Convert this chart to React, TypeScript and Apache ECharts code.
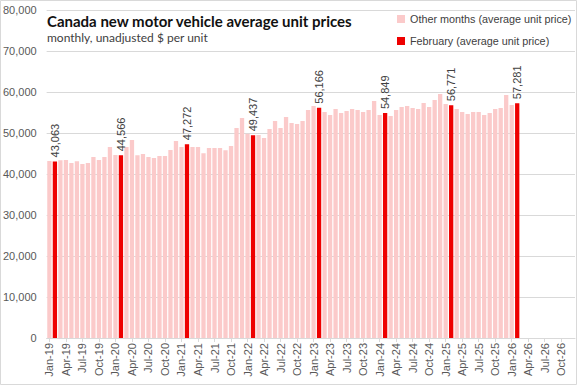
import React, { useEffect, useRef } from "react";
import * as echarts from "echarts";

const monthNames = ["Jan", "Feb", "Mar", "Apr", "May", "Jun", "Jul", "Aug", "Sep", "Oct", "Nov", "Dec"];
const years = ["19", "20", "21", "22", "23", "24", "25", "26"];

// Average unit price by month (Jan..Dec), $ per unit
const prices2019 = [43200, 43063, 43330, 43400, 42700, 43100, 42440, 42700, 44150, 43400, 44150, 46600];
const prices2020 = [44630, 44566, 46600, 48300, 44550, 44880, 44150, 43900, 44400, 44400, 45850, 48050];
const prices2021 = [46600, 47272, 46600, 46600, 45040, 46340, 46340, 46340, 45770, 46830, 51220, 53660];
const prices2022 = [49840, 49437, 49510, 48780, 50980, 52930, 51220, 53900, 52440, 52200, 52930, 55610];
const prices2023 = [56590, 56166, 55120, 54390, 55850, 54880, 55370, 55850, 55610, 55120, 55610, 57800];
const prices2024 = [54390, 54849, 54150, 55610, 56340, 56590, 56100, 55850, 57320, 56340, 58050, 59510];
const prices2025 = [57070, 56771, 55850, 55120, 54630, 55120, 55120, 54390, 54880, 55850, 56100, 59270];
const prices2026 = [56830, 57281];

const yTicks = { min: 0, max: 80000, interval: 10000 };

const fmt = (v: number) => Math.round(v).toLocaleString("en-US");

export default function App() {
  const ref = useRef<HTMLDivElement>(null);

  useEffect(() => {
    if (!ref.current) return;
    const chart = echarts.init(ref.current, null, { renderer: "svg" });

    const categories: string[] = [];
    years.forEach((y) => monthNames.forEach((m) => categories.push(`${m}-${y}`)));
    const all = [
      ...prices2019, ...prices2020, ...prices2021, ...prices2022,
      ...prices2023, ...prices2024, ...prices2025, ...prices2026,
    ];
    const others = categories.map((c, i) =>
      i < all.length && c.slice(0, 3) !== "Feb" ? all[i] : null
    );
    const febs = categories.map((c, i) =>
      i < all.length && c.slice(0, 3) === "Feb" ? all[i] : null
    );

    const axisFont = "Liberation Sans, Arial, sans-serif";

    chart.setOption({
      animation: false,
      backgroundColor: "#ffffff",
      title: {
        text: "Canada new motor vehicle average unit prices",
        subtext: "monthly, unadjusted $ per unit",
        left: 42,
        top: 8,
        itemGap: 3,
        textStyle: {
          fontFamily: "Lato, sans-serif",
          fontSize: 15,
          fontWeight: "bold",
          color: "#111111",
        },
        subtextStyle: {
          fontFamily: "Lato, sans-serif",
          fontSize: 12,
          color: "#404040",
        },
      },
      legend: {
        orient: "vertical",
        left: 392,
        top: 7,
        itemWidth: 8,
        itemHeight: 8,
        itemGap: 8,
        icon: "rect",
        textStyle: {
          fontFamily: axisFont,
          fontSize: 10.8,
          color: "#404040",
          lineHeight: 14,
        },
        data: ["Other months (average unit price)", "February (average unit price)"],
      },
      graphic: [
        {
          type: "rect",
          shape: { x: 0.5, y: 0.5, width: 576, height: 384 },
          style: { fill: "none", stroke: "#d9d9d9", lineWidth: 1 },
          silent: true,
          z: -1,
        },
      ],
      grid: { left: 46, right: 2, top: 10, bottom: 47 },
      xAxis: {
        type: "category",
        data: categories,
        axisLine: { lineStyle: { color: "#d9d9d9" } },
        axisTick: {
          show: true,
          alignWithLabel: true,
          interval: 2,
          length: 4,
          lineStyle: { color: "#d9d9d9" },
        },
        axisLabel: {
          interval: 2,
          rotate: 90,
          fontFamily: axisFont,
          fontSize: 11,
          color: "#595959",
          margin: 5,
        },
      },
      yAxis: {
        type: "value",
        min: yTicks.min,
        max: yTicks.max,
        interval: yTicks.interval,
        axisLine: { show: false },
        axisTick: { show: false },
        splitLine: { lineStyle: { color: "#d9d9d9" } },
        axisLabel: {
          fontFamily: axisFont,
          fontSize: 11,
          color: "#595959",
          margin: 10,
          formatter: (v: number) => fmt(v),
        },
      },
      series: [
        {
          name: "Other months (average unit price)",
          type: "bar",
          data: others,
          barCategoryGap: "22%",
          barGap: "-100%",
          itemStyle: { color: "#fbcaca" },
        },
        {
          name: "February (average unit price)",
          type: "bar",
          data: febs,
          barCategoryGap: "22%",
          barGap: "-100%",
          itemStyle: { color: "#ee0000" },
          label: {
            show: true,
            position: "top",
            rotate: 90,
            align: "left",
            verticalAlign: "middle",
            distance: 4,
            fontFamily: axisFont,
            fontSize: 11,
            color: "#404040",
            formatter: (p: any) => fmt(p.value),
          },
        },
      ],
    });

    return () => chart.dispose();
  }, []);

  return (
    <div
      ref={ref}
      style={{ position: "fixed", left: 0, top: 0, width: 577, height: 385 }}
    />
  );
}
